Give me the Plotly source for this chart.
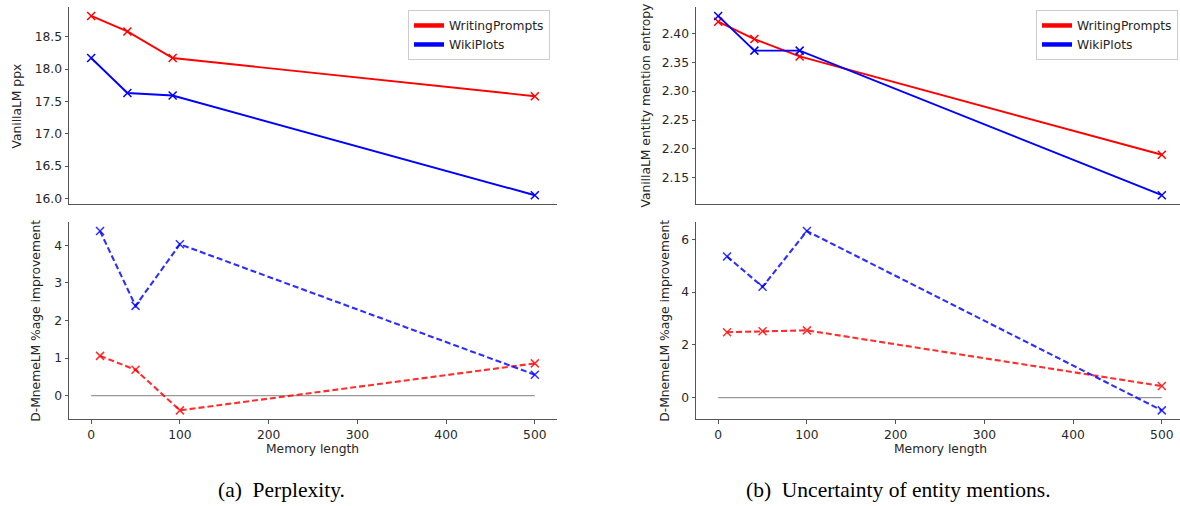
import plotly.graph_objects as go

# ---------------- data ----------------
memory_length = [10, 50, 100, 500]
zero_x = [0, 500]
zero_y = [0, 0]

ppx_writingprompts = [18.82, 18.58, 18.17, 17.58]
ppx_wikiplots = [18.17, 17.63, 17.59, 16.05]
ppx_impr_writingprompts = [1.06, 0.69, -0.39, 0.86]
ppx_impr_wikiplots = [4.38, 2.39, 4.03, 0.56]

ent_writingprompts = [2.42, 2.39, 2.36, 2.19]
ent_wikiplots = [2.43, 2.37, 2.37, 2.12]
ent_impr_writingprompts = [2.48, 2.52, 2.55, 0.44]
ent_impr_wikiplots = [5.35, 4.20, 6.31, -0.48]

series_names = ["WritingPrompts", "WikiPlots"]
ppx_ticks = [16.0, 16.5, 17.0, 17.5, 18.0, 18.5]
ppx_impr_ticks = [0, 1, 2, 3, 4]
ent_ticks = [2.15, 2.20, 2.25, 2.30, 2.35, 2.40]
ent_impr_ticks = [0, 2, 4, 6]
x_ticks = [0, 100, 200, 300, 400, 500]

# ---------------- styling ----------------
W, H = 1180, 506
FONT = "DejaVu Sans"
FS = 12.3
RED = "#ff0000"
BLUE = "#0000ff"
RED_D = "rgba(255,0,0,0.82)"
BLUE_D = "rgba(0,0,255,0.82)"
SPINE = "#555555"
TXT = "#262626"
DASH = "6px,3px"


def pad(vals):
    lo, hi = min(vals), max(vals)
    d = (hi - lo) * 0.05
    return [lo - d, hi + d]


def px_x(a, b):
    return [a / W, min(b / W, 1.0)]


def px_y(top, bottom):
    return [1 - bottom / H, 1 - top / H]


fig = go.Figure()

# axes pixel geometry
L_X0, L_X1 = 69, 557
R_X0, R_X1 = 696, 1184
TOP = (7, 205)
BOT = (223, 421)


def clip_range(rng, x0, x1):
    # the right panel is cut off by the image edge at W
    if x1 <= W:
        return rng
    frac = (W - x0) / (x1 - x0)
    return [rng[0], rng[0] + (rng[1] - rng[0]) * frac]


def add_line(x, y, color, xa, ya, dash=None, width=1.9):
    fig.add_trace(go.Scatter(
        x=x, y=y, mode="lines+markers", xaxis=xa, yaxis=ya,
        line=dict(color=color, width=width, dash=dash),
        marker=dict(symbol="x-thin", size=8, line=dict(color=color, width=1.5), color=color),
        showlegend=False, hoverinfo="skip"))


def add_zero(xa, ya):
    fig.add_trace(go.Scatter(
        x=zero_x, y=zero_y, mode="lines", xaxis=xa, yaxis=ya,
        line=dict(color="#7f7f7f", width=1), showlegend=False, hoverinfo="skip"))


# left top
add_line(memory_length, ppx_writingprompts, RED, "x", "y")
add_line(memory_length, ppx_wikiplots, BLUE, "x", "y")
# left bottom
add_zero("x2", "y2")
add_line(memory_length, ppx_impr_writingprompts, RED_D, "x2", "y2", dash=DASH, width=2.1)
add_line(memory_length, ppx_impr_wikiplots, BLUE_D, "x2", "y2", dash=DASH, width=2.1)
# right top
add_line(memory_length, ent_writingprompts, RED, "x3", "y3")
add_line(memory_length, ent_wikiplots, BLUE, "x3", "y3")
# right bottom
add_zero("x4", "y4")
add_line(memory_length, ent_impr_writingprompts, RED_D, "x4", "y4", dash=DASH, width=2.1)
add_line(memory_length, ent_impr_wikiplots, BLUE_D, "x4", "y4", dash=DASH, width=2.1)

# legend handles (thick lines, no markers), one legend per top panel
for lg, xa, ya in (("legend", "x", "y"), ("legend2", "x3", "y3")):
    for name, col in zip(series_names, (RED, BLUE)):
        fig.add_trace(go.Scatter(
            x=[None], y=[None], mode="lines", xaxis=xa, yaxis=ya,
            line=dict(color=col, width=4.5), name=name, legend=lg, hoverinfo="skip"))

axis_common = dict(
    showline=True, linecolor=SPINE, linewidth=1, mirror=False,
    showgrid=False, zeroline=False, ticks="outside", ticklen=3.5, tickwidth=1,
    tickcolor=SPINE, tickfont=dict(family=FONT, size=FS, color=TXT), fixedrange=True)

x_top_range = pad(memory_length)
x_bot_range = pad(memory_length + zero_x)

legend_common = dict(yanchor="top", xanchor="right", bgcolor="white",
                     bordercolor="#cccccc", borderwidth=1,
                     font=dict(family=FONT, size=FS, color=TXT), itemwidth=30)

fig.update_layout(
    width=W, height=H, margin=dict(l=0, r=0, t=0, b=0),
    paper_bgcolor="white", plot_bgcolor="white",
    font=dict(family=FONT, size=FS, color=TXT),
    xaxis=dict(domain=px_x(L_X0, L_X1), range=x_top_range, anchor="y",
               **{**axis_common, "ticks": "", "showticklabels": False}),
    yaxis=dict(domain=px_y(*TOP), range=pad(ppx_writingprompts + ppx_wikiplots), anchor="x",
               tickvals=ppx_ticks, tickformat=".1f", **axis_common),
    xaxis2=dict(domain=px_x(L_X0, L_X1), range=x_bot_range, anchor="y2",
                tickvals=x_ticks, **axis_common),
    yaxis2=dict(domain=px_y(*BOT), range=pad(ppx_impr_writingprompts + ppx_impr_wikiplots), anchor="x2",
                tickvals=ppx_impr_ticks, **axis_common),
    xaxis3=dict(domain=px_x(R_X0, R_X1), range=clip_range(x_top_range, R_X0, R_X1), anchor="y3",
                **{**axis_common, "ticks": "", "showticklabels": False}),
    yaxis3=dict(domain=px_y(*TOP), range=pad(ent_writingprompts + ent_wikiplots), anchor="x3",
                tickvals=ent_ticks, tickformat=".2f", **axis_common),
    xaxis4=dict(domain=px_x(R_X0, R_X1), range=clip_range(x_bot_range, R_X0, R_X1), anchor="y4",
                tickvals=x_ticks, **axis_common),
    yaxis4=dict(domain=px_y(*BOT), range=pad(ent_impr_writingprompts + ent_impr_wikiplots), anchor="x4",
                tickvals=ent_impr_ticks, **axis_common),
    legend=dict(x=550 / W, y=1 - 10 / H, **legend_common),
    legend2=dict(x=1178 / W, y=1 - 10 / H, **legend_common),
)

ann = []
def ylabel(text, xc, yc):
    ann.append(dict(text=text, x=xc / W, y=1 - yc / H, xref="paper", yref="paper",
                    xanchor="center", yanchor="middle", textangle=-90, showarrow=False,
                    font=dict(family=FONT, size=FS, color=TXT)))

def xlabel(text, xc, yc):
    ann.append(dict(text=text, x=xc / W, y=1 - yc / H, xref="paper", yref="paper",
                    xanchor="center", yanchor="middle", showarrow=False,
                    font=dict(family=FONT, size=FS, color=TXT)))

ylabel("VanillaLM ppx", 17, 107)
ylabel("D-MnemeLM %age improvement", 36, 322)
ylabel("VanillaLM entity mention entropy", 646, 106)
ylabel("D-MnemeLM %age improvement", 665, 322)
xlabel("Memory length", 312, 451)
xlabel("Memory length", 940, 451)

for text, xc in (("(a)  Perplexity.", 281), ("(b)  Uncertainty of entity mentions.", 898)):
    ann.append(dict(text=text, x=xc / W, y=1 - 492 / H, xref="paper", yref="paper",
                    xanchor="center", yanchor="middle", showarrow=False,
                    font=dict(family="Liberation Serif", size=21.5, color="black")))

fig.update_layout(annotations=ann)

fig.write_html(
    "out.html",
    config={"displayModeBar": False, "staticPlot": True},
    post_script="document.body.style.margin='0';document.body.style.padding='0';"
                "document.body.style.overflow='hidden';",
)
